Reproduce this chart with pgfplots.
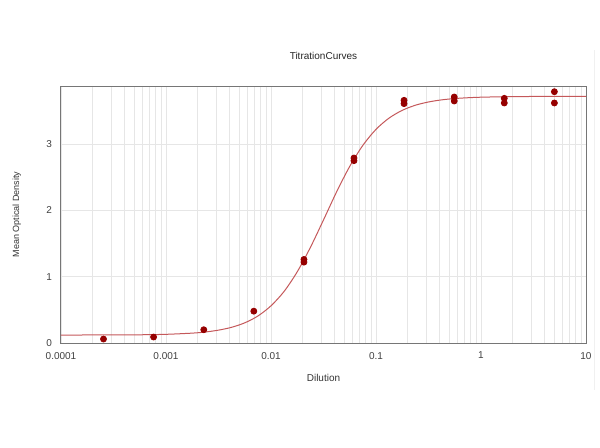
\documentclass[border=0pt]{standalone}
\usepackage{pgfplots}
\pgfplotsset{compat=1.18}
\usepackage{fontspec}
\setmainfont{Liberation Sans}
\definecolor{framegray}{HTML}{767676}
\definecolor{gridgray}{HTML}{E6E6E6}
\definecolor{fitred}{HTML}{C4585A}
\definecolor{ptred}{HTML}{960000}
\begin{document}
\begin{tikzpicture}
\path[use as bounding box] (0pt,0pt) rectangle (300pt,223.5pt);
% faint frame edge at the right of the reference image
\draw[black!6, line width=0.5pt] (297pt,28.5pt) -- (297pt,198.5pt);
\begin{axis}[
    at={(30.5pt,52pt)}, anchor=south west,
    scale only axis,
    width=262.5pt, height=128.5pt,
    xmode=log, log basis x=10,
    xmin=0.0001, xmax=10,
    ymin=0, ymax=3.876,
    xtick={0.0001,0.001,0.01,0.1,1,10},
    xticklabels={0.0001,0.001,0.01,0.1,1,10},
    ytick={0,1,2,3},
    minor xtick={2e-4,3e-4,4e-4,5e-4,6e-4,7e-4,8e-4,9e-4,
                 2e-3,3e-3,4e-3,5e-3,6e-3,7e-3,8e-3,9e-3,
                 2e-2,3e-2,4e-2,5e-2,6e-2,7e-2,8e-2,9e-2,
                 0.2,0.3,0.4,0.5,0.6,0.7,0.8,0.9,
                 2,3,4,5,6,7,8,9},
    xmajorgrids, xminorgrids, ymajorgrids,
    grid style={gridgray, line width=0.4pt},
    minor grid style={gridgray, line width=0.4pt},
    major tick length=0pt, minor tick length=0pt,
    axis line style={framegray, line width=0.5pt},
    /pgf/number format/assume math mode=true,
    tick label style={font=\fontsize{5}{6}\selectfont, text=black!75},
    xticklabel style={yshift=-1pt},
    yticklabel style={xshift=-1pt},
    title={TitrationCurves},
    title style={font=\fontsize{5}{6}\selectfont, text=black!85, at={(axis description cs:0.5,1.07)}, anchor=center},
    xlabel={Dilution},
    xlabel style={font=\fontsize{5}{6}\selectfont, text=black!80, at={(axis description cs:0.5,-0.136)}, anchor=center},
    ylabel={Mean Optical Density},
    ylabel style={font=\fontsize{4.5}{5.5}\selectfont, text=black!80, at={(axis description cs:-0.084,0.5)}, anchor=center},
    clip=false,
]
% fitted 4-parameter curve
\addplot[fitred, line width=0.5pt, smooth, mark=none] coordinates {
(0.0001,0.120)(0.000316,0.122)(0.000562,0.124)(0.001,0.131)(0.00178,0.149)
(0.002371,0.166)(0.00316,0.194)(0.004217,0.237)(0.00562,0.304)(0.0075,0.407)
(0.01,0.561)(0.01334,0.779)(0.01778,1.074)(0.02371,1.441)(0.03162,1.856)
(0.04217,2.280)(0.05623,2.664)(0.07499,2.981)(0.1,3.222)(0.1334,3.393)
(0.1778,3.509)(0.2371,3.586)(0.3162,3.635)(0.4217,3.667)(0.5623,3.687)
(0.75,3.699)(1,3.707)(1.778,3.715)(3.162,3.718)(10,3.720)
};
% replicate measurements
\addplot[only marks, mark=*, mark size=1.5pt, ptred] coordinates {
(0.000254,0.06)(0.000762,0.09)(0.00229,0.20)(0.00686,0.48)
(0.0206,1.22)(0.0206,1.26)(0.0617,2.75)(0.0617,2.79)
(0.185,3.61)(0.185,3.66)(0.556,3.65)(0.556,3.71)
(1.667,3.62)(1.667,3.69)(5,3.62)(5,3.79)
};
\end{axis}
\end{tikzpicture}
\end{document}
